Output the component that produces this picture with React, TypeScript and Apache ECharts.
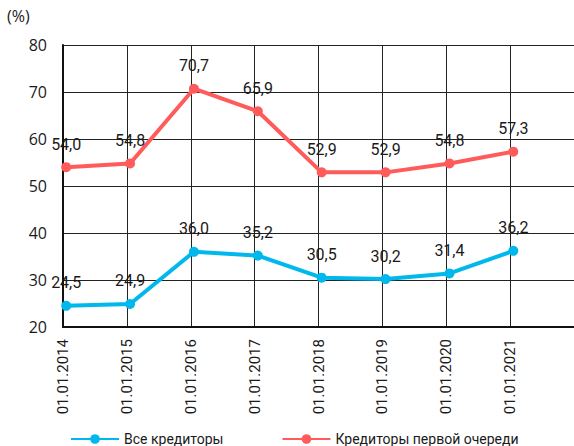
import React, { useEffect, useRef } from "react";
import * as echarts from "echarts";

const categories = ["01.01.2014", "01.01.2015", "01.01.2016", "01.01.2017", "01.01.2018", "01.01.2019", "01.01.2020", "01.01.2021"];
const allCreditors = [24.5, 24.9, 36.0, 35.2, 30.5, 30.2, 31.4, 36.2];
const firstPriority = [54.0, 54.8, 70.7, 65.9, 52.9, 52.9, 54.8, 57.3];
const seriesNames = ["Все кредиторы", "Кредиторы первой очереди"];
const yTicks = { min: 20, max: 80, interval: 10 };

const NARROW = "'Liberation Sans Narrow', 'Roboto', sans-serif";
const WIDE = "'Open Sans', 'Noto Sans', sans-serif";
const TEXT = "#1a1a1a";

export default function App() {
  const ref = useRef<HTMLDivElement>(null);
  useEffect(() => {
    document.body.style.margin = "0";
    const chart = echarts.init(ref.current!, undefined, { renderer: "svg" });
    const fmt = (p: any) => Number(p.value[1]).toFixed(1).replace(".", ",");
    const mk = (name: string, vals: number[], color: string) => ({
      type: "line",
      name,
      xAxisIndex: 1,
      data: vals.map((v, i) => [i, v]),
      symbol: "circle",
      symbolSize: 10,
      lineStyle: { width: 4, color },
      itemStyle: { color },
      label: {
        show: true,
        position: "top",
        distance: 10,
        formatter: fmt,
        fontFamily: NARROW,
        fontSize: 16,
        color: TEXT,
      },
      z: 5,
    });
    chart.setOption({
      animation: false,
      grid: { left: 63, right: 0, top: 45, bottom: 119, containLabel: false },
      graphic: [
        {
          type: "text",
          left: 7,
          top: 8,
          style: { text: "(%)", fontFamily: WIDE, fontSize: 16, fill: TEXT },
        },
      ],
      legend: {
        top: 427,
        left: 65,
        width: 500,
        orient: "horizontal",
        itemWidth: 48,
        itemHeight: 12,
        itemGap: 58,
        textStyle: { fontFamily: NARROW, fontSize: 14, color: TEXT },
        data: seriesNames,
      },
      xAxis: [
        {
          type: "value",
          min: 0,
          max: categories.length,
          interval: 1,
          axisLine: { show: true, onZero: false, lineStyle: { color: "#111", width: 2 } },
          axisTick: { show: false },
          splitLine: { show: true, lineStyle: { color: "#222", width: 1 } },
          axisLabel: {
            rotate: 90,
            margin: 12,
            fontFamily: NARROW,
            fontSize: 15,
            color: TEXT,
            showMaxLabel: false,
            formatter: (v: number) => categories[v] ?? "",
          },
        },
        {
          type: "value",
          min: -0.05,
          max: categories.length - 0.05,
          show: false,
          splitLine: { show: false },
        },
      ],
      yAxis: {
        type: "value",
        min: yTicks.min,
        max: yTicks.max,
        interval: yTicks.interval,
        axisLine: { show: true, lineStyle: { color: "#111", width: 2 } },
        axisTick: { show: false },
        splitLine: { show: true, lineStyle: { color: "#222", width: 1 } },
        axisLabel: { margin: 16, fontFamily: WIDE, fontSize: 16, color: TEXT },
      },
      series: [
        mk(seriesNames[0], allCreditors, "#00b8ec"),
        mk(seriesNames[1], firstPriority, "#ff5b5b"),
      ],
    });
    return () => chart.dispose();
  }, []);
  return <div ref={ref} style={{ position: "absolute", left: 0, top: 0, width: 574, height: 446 }} />;
}
